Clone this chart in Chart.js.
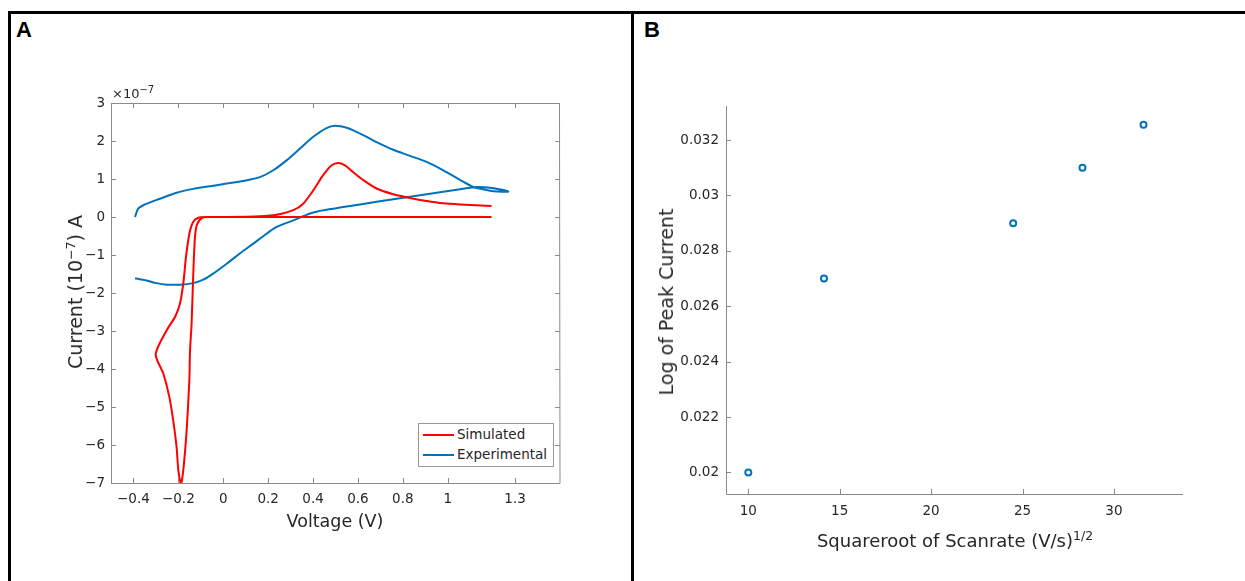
<!DOCTYPE html>
<html lang="en">
<head>
<meta charset="UTF-8" />
<title>Voltammetry figure</title>
<script src="https://cdn.jsdelivr.net/npm/chart.js"></script>
<style>
  body { margin:0; background:#fff; width:1245px; height:581px; overflow:hidden; position:relative;
         font-family:"DejaVu Sans", sans-serif; color:#262626; }
  .rule { position:absolute; background:#000; }
  .panel { position:absolute; font:bold 22px "Liberation Sans", Arial, sans-serif; color:#000; }
  canvas { position:absolute; top:0; }
  .title { position:absolute; white-space:nowrap; font-size:17.5px; transform:translate(-50%,-50%); }
  .title.rot { font-size:19px; transform:translate(-50%,-50%) rotate(-90deg); }
  .title sup { font-size:12.5px; vertical-align:7px; line-height:0; }
  .expo { position:absolute; left:112px; top:86px; font-size:13px; white-space:nowrap; }
  .expo sup { font-size:10px; vertical-align:5px; line-height:0; }
  .legend { position:absolute; left:418px; top:423px; width:134px; height:42px; border:1px solid #999;
            background:#fff; font-size:13.5px; }
  .legend div { position:relative; height:19px; line-height:19px; padding-left:38px; margin-top:1px; }
  .legend span { position:absolute; left:4px; top:9px; width:31px; height:2px; }
</style>
</head>
<body>
  <div class="rule" style="left:8px; top:11px; width:1237px; height:3px;"></div>
  <div class="rule" style="left:8px; top:11px; width:3px; height:570px;"></div>
  <div class="rule" style="left:631px; top:11px; width:3px; height:570px;"></div>
  <div class="panel" style="left:16px; top:17px;">A</div>
  <div class="panel" style="left:644px; top:17px;">B</div>

  <canvas id="cvChart" width="631" height="581" style="left:0;"></canvas>
  <canvas id="peakChart" width="611" height="581" style="left:634px;"></canvas>

  <div class="expo">&times;10<sup>&minus;7</sup></div>
  <div class="title rot" style="left:75px; top:292px;">Current (10<sup>&minus;7</sup>) A</div>
  <div class="title" style="left:335px; top:521px;">Voltage (V)</div>
  <div class="title rot" style="left:666px; top:302px;">Log of Peak Current</div>
  <div class="title" style="left:955px; top:540px; font-size:18px;">Squareroot of Scanrate (V/s)<sup>1/2</sup></div>

  <div class="legend">
    <div><span style="background:#ff0000"></span>Simulated</div>
    <div><span style="background:#0072bd"></span>Experimental</div>
  </div>

<script>
// panel A: cyclic voltammograms, current in units of 1e-7 A
const simV = [1.195, 0.5, -0.074, -0.096, -0.116, -0.126, -0.134, -0.141, -0.148, -0.151, -0.163, -0.175, -0.185, -0.19,
  -0.2, -0.208, -0.223, -0.24, -0.267, -0.301, -0.252, -0.215, -0.193, -0.178, -0.166, -0.151, -0.134, -0.111, -0.074,
  0.015, 0.163, 0.238, 0.312, 0.356, 0.401, 0.445, 0.483, 0.512, 0.542, 0.579, 0.624, 0.683, 0.757, 0.832, 0.906, 0.98, 1.054, 1.195];
const simI = [0, 0, 0, -0.03, -0.18, -0.53, -1.58, -2.81, -3.51, -4.3, -5.61, -6.49, -6.97, -7.0,
  -6.67, -6.05, -5.35, -4.74, -4.12, -3.61, -2.98, -2.63, -2.28, -1.75, -1.05, -0.44, -0.13, -0.02, 0,
  0, 0.02, 0.06, 0.18, 0.35, 0.7, 1.1, 1.36, 1.42, 1.36, 1.18, 0.97, 0.75, 0.6, 0.5, 0.42, 0.36, 0.33, 0.29];

const expV = [-0.393, -0.379, -0.356, -0.282, -0.208, -0.134, -0.059, 0.015, 0.089, 0.163, 0.223, 0.282, 0.342, 0.401,
  0.46, 0.498, 0.55, 0.579, 0.639, 0.683, 0.757, 0.832, 0.906, 0.98, 1.054, 1.114, 1.158, 1.203, 1.27,
  1.188, 1.129, 1.054, 0.906, 0.757, 0.609, 0.49, 0.401, 0.356, 0.312, 0.238, 0.193, 0.134, 0.074, 0.015,
  -0.045, -0.089, -0.134, -0.193, -0.253, -0.297, -0.342, -0.371, -0.393];
const expI = [0, 0.22, 0.31, 0.48, 0.64, 0.74, 0.81, 0.88, 0.95, 1.05, 1.23, 1.49, 1.8, 2.11,
  2.34, 2.4, 2.35, 2.28, 2.11, 1.97, 1.77, 1.61, 1.45, 1.23, 0.98, 0.79, 0.73, 0.68, 0.67,
  0.77, 0.79, 0.73, 0.6, 0.47, 0.33, 0.22, 0.12, 0.02, -0.09, -0.26, -0.44, -0.7, -0.96, -1.23,
  -1.49, -1.65, -1.74, -1.78, -1.78, -1.74, -1.67, -1.64, -1.61];

const voltTicks = [-0.4, -0.2, 0, 0.2, 0.4, 0.6, 0.8, 1, 1.3];
const currentTicks = [-7, -6, -5, -4, -3, -2, -1, 0, 1, 2, 3];

// panel B: peak current vs sqrt(scan rate)
const scanRoot = [10, 14.14, 24.49, 28.28, 31.62];
const peakLog = [0.02, 0.027, 0.029, 0.031, 0.03255];
const rootTicks = [10, 15, 20, 25, 30];
const logTicks = [0.02, 0.022, 0.024, 0.026, 0.028, 0.03, 0.032];

const toPoints = (xs, ys) => xs.map((x, i) => ({x: x, y: ys[i]}));
const fmt = v => {
  const s = String(Number(v.toFixed(4)));
  return v < 0 ? '\u2212' + s.slice(1) : s;
};
const tickFont = {family: 'DejaVu Sans', size: 13.5};

// MATLAB style axes: ticks pointing inward, optional full box
const insideTicks = {
  id: 'insideTicks',
  afterDraw(chart, args, opts) {
    const {ctx, chartArea: a, scales: {x, y}} = chart;
    const len = 5;
    ctx.save();
    ctx.strokeStyle = '#8a8a8a';
    ctx.lineWidth = 1;
    ctx.beginPath();
    ctx.moveTo(a.left + 0.5, a.top);
    ctx.lineTo(a.left + 0.5, a.bottom + 0.5);
    ctx.lineTo(a.right, a.bottom + 0.5);
    if (opts.box) {
      ctx.lineTo(a.right - 0.5, a.top + 0.5);
      ctx.lineTo(a.left + 0.5, a.top + 0.5);
    }
    x.ticks.forEach(t => {
      const px = Math.round(x.getPixelForValue(t.value)) + 0.5;
      ctx.moveTo(px, a.bottom);
      ctx.lineTo(px, a.bottom - len);
      if (opts.box) { ctx.moveTo(px, a.top); ctx.lineTo(px, a.top + len); }
    });
    y.ticks.forEach(t => {
      const py = Math.round(y.getPixelForValue(t.value)) + 0.5;
      ctx.moveTo(a.left, py);
      ctx.lineTo(a.left + len, py);
      if (opts.box) { ctx.moveTo(a.right, py); ctx.lineTo(a.right - len, py); }
    });
    ctx.stroke();
    ctx.restore();
  }
};

// size = room the axis takes outside the plot box (labels are clipped to it)
function axis(min, max, ticks, horizontal, size, pad) {
  return {
    type: 'linear',
    min: min,
    max: max,
    grid: {display: false, drawTicks: false},
    border: {display: false},
    afterBuildTicks: scale => { scale.ticks = ticks.map(v => ({value: v})); },
    afterFit: scale => { if (horizontal) scale.height = size; else scale.width = size; },
    ticks: {font: tickFont, color: '#262626', padding: pad, maxRotation: 0, autoSkip: false, callback: v => fmt(v)}
  };
}

Chart.defaults.animation = false;

new Chart(document.getElementById('cvChart'), {
  type: 'scatter',
  data: {
    datasets: [
      {label: 'Simulated', data: toPoints(simV, simI), showLine: true, borderColor: '#ff0000',
       borderWidth: 2, pointRadius: 0, tension: 0.25},
      {label: 'Experimental', data: toPoints(expV, expI), showLine: true, borderColor: '#0072bd',
       borderWidth: 2, pointRadius: 0, tension: 0.3}
    ]
  },
  options: {
    responsive: false,
    layout: {padding: {left: 0, top: 103, right: 71, bottom: 0}},
    plugins: {legend: {display: false}, tooltip: {enabled: false}, insideTicks: {box: true}},
    scales: {
      x: axis(-0.5, 1.5, voltTicks, true, 98, 8),
      y: axis(-7, 3, currentTicks, false, 111, 6)
    }
  },
  plugins: [insideTicks]
});

new Chart(document.getElementById('peakChart'), {
  type: 'scatter',
  data: {
    datasets: [
      {label: 'Peak current', data: toPoints(scanRoot, peakLog), showLine: false, borderColor: '#0072bd',
       backgroundColor: '#ffffff', borderWidth: 2, pointRadius: 3, pointStyle: 'circle'}
    ]
  },
  options: {
    responsive: false,
    layout: {padding: {left: 0, top: 106, right: 62, bottom: 0}},
    plugins: {legend: {display: false}, tooltip: {enabled: false}, insideTicks: {box: false}},
    scales: {
      x: axis(8.78, 33.78, rootTicks, true, 87, 9),
      y: axis(0.01922, 0.03323, logTicks, false, 92, 7)
    }
  },
  plugins: [insideTicks]
});
</script>
</body>
</html>
